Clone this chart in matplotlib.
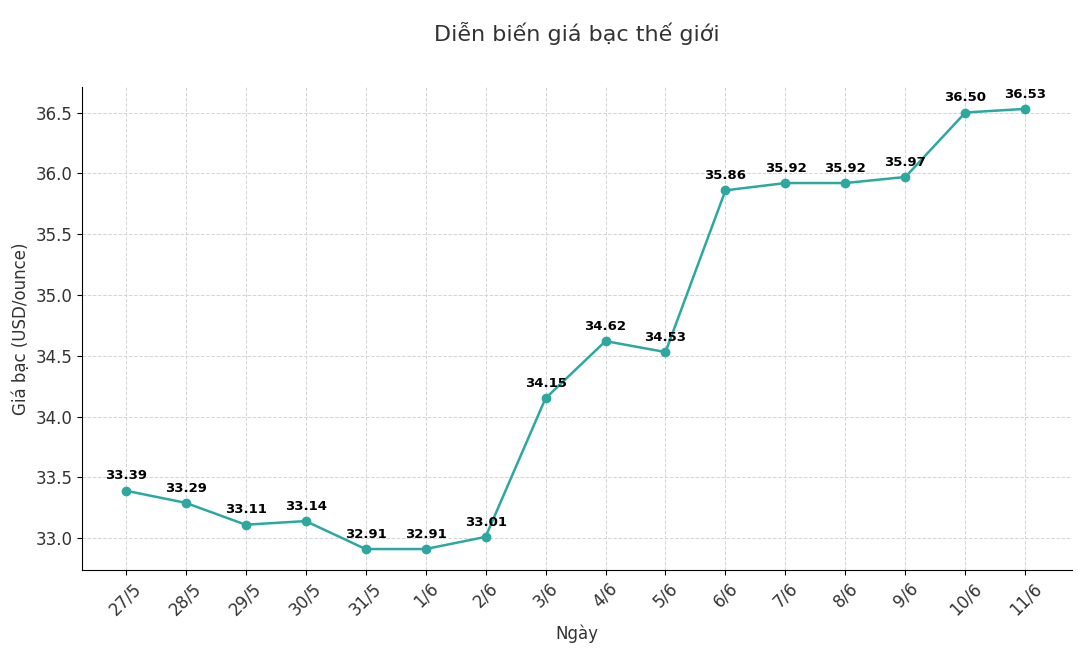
import matplotlib
matplotlib.use("Agg")
import matplotlib.pyplot as plt

# Data
dates = ["27/5", "28/5", "29/5", "30/5", "31/5", "1/6", "2/6", "3/6",
         "4/6", "5/6", "6/6", "7/6", "8/6", "9/6", "10/6", "11/6"]
prices = [33.39, 33.29, 33.11, 33.14, 32.91, 32.91, 33.01, 34.15,
          34.62, 34.53, 35.86, 35.92, 35.92, 35.97, 36.50, 36.53]

LINE_COLOR = "#2ca8a0"
TEXT_COLOR = "#333333"

fig, ax = plt.subplots(figsize=(10.78, 6.64), dpi=100)
fig.subplots_adjust(left=0.076, right=0.994, top=0.869, bottom=0.142)

x = range(len(dates))
ax.plot(x, prices, color=LINE_COLOR, marker="o", markersize=6, linewidth=1.8)

for xi, p in zip(x, prices):
    ax.annotate(f"{p:.2f}", (xi, p), textcoords="offset points", xytext=(0, 6),
                ha="center", va="bottom", fontsize=9.5, fontweight="bold", color="black")

ax.set_xticks(list(x))
ax.set_xticklabels(dates, rotation=45, fontsize=12, color=TEXT_COLOR)
ax.set_ylim(32.74, 36.71)
ax.set_xlim(-0.73, 15.77)
ax.set_yticks([33.0, 33.5, 34.0, 34.5, 35.0, 35.5, 36.0, 36.5])
ax.tick_params(axis="y", labelsize=12, labelcolor=TEXT_COLOR)

ax.set_title("Diễn biến giá bạc thế giới", fontsize=16, color=TEXT_COLOR, pad=33)
ax.set_xlabel("Ngày", fontsize=12, color=TEXT_COLOR)
ax.set_ylabel("Giá bạc (USD/ounce)", fontsize=12, color=TEXT_COLOR)

ax.grid(True, linestyle="--", color="#d5d5d5", linewidth=0.7)
ax.spines["top"].set_visible(False)
ax.spines["right"].set_visible(False)

fig.savefig("out.png", dpi=100)
